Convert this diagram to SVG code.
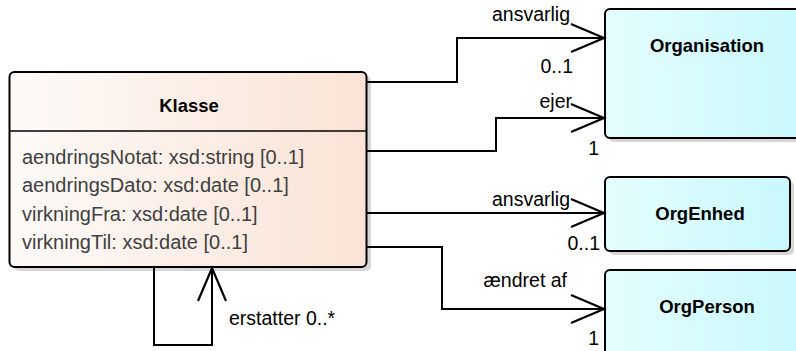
<svg xmlns="http://www.w3.org/2000/svg" width="796" height="351" viewBox="0 0 796 351">
<defs>
<linearGradient id="gK" x1="0" y1="0" x2="1" y2="0">
<stop offset="0" stop-color="#fdfaf8"/>
<stop offset="1" stop-color="#fae3d5"/>
</linearGradient>
<linearGradient id="gO" x1="0" y1="0" x2="1" y2="0">
<stop offset="0" stop-color="#e4fdfe"/>
<stop offset="1" stop-color="#c9f8fc"/>
</linearGradient>
<marker id="arr" markerUnits="userSpaceOnUse" markerWidth="40" markerHeight="34" refX="34" refY="16" orient="auto" overflow="visible">
<path d="M1,2 L34,16 L1,30" fill="none" stroke="#000" stroke-width="2.2"/>
</marker>
</defs>
<style>
.shadow{fill:#d6d6d6}
.box{stroke:#000;stroke-width:2}
.title{font-family:"Liberation Sans",Arial,sans-serif;font-weight:bold;font-size:18.5px;fill:#000;text-anchor:middle}
.attr{font-family:"Liberation Sans",Arial,sans-serif;font-size:20px;fill:#404040}
.lbl{font-family:"Liberation Sans",Arial,sans-serif;font-size:19.5px;fill:#000}
.conn{fill:none;stroke:#000;stroke-width:2}
</style>
<g id="Klasse">
<rect class="shadow" x="14" y="76" width="357" height="195" rx="5"/>
<rect class="box" x="9.5" y="72" width="357" height="195" rx="5" fill="url(#gK)"/>
<line x1="9.5" y1="131" x2="366.5" y2="131" stroke="#000" stroke-width="1.5"/>
<text class="title" x="189" y="112">Klasse</text>
<text class="attr" x="22" y="164">aendringsNotat: xsd:string [0..1]</text>
<text class="attr" x="22" y="192">aendringsDato: xsd:date [0..1]</text>
<text class="attr" x="22" y="220.5">virkningFra: xsd:date [0..1]</text>
<text class="attr" x="22" y="249">virkningTil: xsd:date [0..1]</text>
</g>
<g id="Organisation">
<rect class="shadow" x="609" y="13" width="200" height="129" rx="5"/>
<rect class="box" x="605" y="9" width="200" height="129" rx="5" fill="url(#gO)"/>
<text class="title" x="707" y="52">Organisation</text>
</g>
<g id="OrgEnhed">
<rect class="shadow" x="609" y="181" width="185" height="74" rx="5"/>
<rect class="box" x="605" y="177" width="185" height="74" rx="5" fill="url(#gO)"/>
<text class="title" x="700" y="220">OrgEnhed</text>
</g>
<g id="OrgPerson">
<rect class="shadow" x="609" y="274" width="200" height="100" rx="5"/>
<rect class="box" x="605" y="270" width="200" height="100" rx="5" fill="url(#gO)"/>
<text class="title" x="707" y="313">OrgPerson</text>
</g>
<g id="connectors">
<polyline class="conn" points="367,82 457,82 457,38 604,38" marker-end="url(#arr)"/>
<polyline class="conn" points="367,151 496,151 496,118 604,118" marker-end="url(#arr)"/>
<polyline class="conn" points="367,213 604,213" marker-end="url(#arr)"/>
<polyline class="conn" points="367,247 442,247 442,309 604,309" marker-end="url(#arr)"/>
<polyline class="conn" points="154,268 154,345 212,345 212,268" marker-end="url(#arr)"/>
<text class="lbl" x="570" y="21" text-anchor="end">ansvarlig</text>
<text class="lbl" x="573" y="73" text-anchor="end">0..1</text>
<text class="lbl" x="572" y="108" text-anchor="end">ejer</text>
<text class="lbl" x="599" y="155" text-anchor="end">1</text>
<text class="lbl" x="570" y="206" text-anchor="end">ansvarlig</text>
<text class="lbl" x="600" y="250" text-anchor="end">0..1</text>
<text class="lbl" x="567" y="287" text-anchor="end">ændret af</text>
<text class="lbl" x="599" y="345" text-anchor="end">1</text>
<text class="lbl" x="229" y="325">erstatter 0..*</text>
</g>
</svg>
